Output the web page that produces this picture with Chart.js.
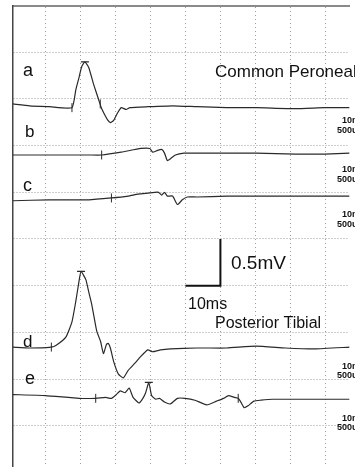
<!DOCTYPE html>
<html>
<head>
<meta charset="utf-8">
<script src="https://cdn.jsdelivr.net/npm/chart.js@4.4.1/dist/chart.umd.min.js"></script>
<style>
html,body{margin:0;padding:0;background:#fff;}
#wrap{position:relative;width:355px;height:472px;overflow:hidden;}
</style>
</head>
<body>
<div id="wrap"><canvas id="ncs"></canvas></div>
<script>
/* Nerve conduction traces, 10 ms/div, 500 uV/div */

// trace a (common peroneal)
const timeA = [0.6,5.4,11.0,17.5,18.6,19.5,20.3,21.2,22.3,23.7,25.1,25.9,26.8,27.7,28.5,29.4,30.5,31.6,33.0,34.1,39.2,46.3,53.3,61.8,70.2,81.5,89.9,97.0];
const voltA = [0.03,0.01,0,-0.01,0.18,0.31,0.43,0.48,0.42,0.24,0.08,-0.01,-0.08,-0.14,-0.17,-0.15,-0.07,-0.01,-0.03,-0.01,0,0.01,0,-0.01,-0.01,-0.02,-0.01,-0.01];
// trace b
const timeB = [0.6,11.0,22.3,26.0,31.6,37.2,39.8,40.6,42.0,43.2,44.0,44.8,45.7,47.1,49.6,53.3,61.8,70.2,81.5,89.9,97.0];
const voltB = [-0.01,-0.01,-0.01,-0.01,0.02,0.06,0.06,0.02,0.04,0.05,0.01,-0.07,-0.05,-0.01,0.01,0.01,0.01,0.01,0,0,0.01];
// trace c
const timeC = [0.6,11.0,22.3,28.8,33.6,36.4,41.2,42.3,43.2,44.0,44.8,46.3,47.7,49.1,50.5,53.3,61.8,70.2,81.5,89.9,97.0];
const voltC = [-0.03,-0.02,-0.02,0,0.02,0.04,0.06,0.06,0.03,0.06,0.02,0.02,-0.07,-0.02,0.01,0.01,0.02,0.02,0.02,0.02,0.02];
// trace d (posterior tibial)
const timeD = [0.6,5.4,11.6,13.0,15.8,17.5,18.6,19.5,20.1,21.5,22.3,23.2,24.6,25.7,26.5,27.4,27.9,28.5,29.4,30.8,32.2,33.6,35.6,37.2,39.2,40.6,42.9,45.7,53.3,61.8,70.2,78.6,87.0,97.0];
const voltD = [0,-0.01,0,0.02,0.11,0.27,0.49,0.70,0.81,0.72,0.59,0.45,0.17,0.06,-0.07,0.03,0.04,-0.01,-0.15,-0.29,-0.33,-0.25,-0.17,-0.10,-0.03,-0.05,-0.03,-0.02,-0.01,-0.01,0.01,-0.01,-0.02,0];
// trace e
const timeE = [0.6,9.9,19.5,24.3,27.1,28.8,30.2,31.3,32.7,33.9,35.0,36.7,37.8,38.6,39.5,40.3,41.5,42.6,44.0,45.7,47.7,49.9,52.7,56.1,58.9,60.9,62.3,64.0,65.1,66.0,66.8,67.9,69.6,71.6,74.9,84.3,97.0];
const voltE = [0.04,0.03,0,0,0.01,0,0.04,0.08,0.06,0.11,0.01,-0.05,0,0.06,0.17,0.03,-0.01,0,-0.04,-0.06,0,0,-0.02,-0.07,-0.03,0,0.03,0.01,0,-0.05,-0.10,-0.08,-0.03,-0.02,-0.01,-0.01,-0.01];

// baseline of each trace, mV below the top edge
const baseA = 1.084, baseB = 1.591, baseC = 2.061, baseD = 3.658, baseE = 4.207;

// cursors: onset ticks and peak bars [ms, mV]
const onsetTicks = [[17.5,-0.01,baseA],[25.6,0.03,baseA],[26.0,-0.01,baseB],[28.8,0,baseC],[11.6,0,baseD],[24.3,0,baseE],[65.1,0,baseE]];
const peakBars = [[21.2,0.48,baseA],[20.1,0.81,baseD],[39.5,0.17,baseE]];

// calibration bar 10 ms / 0.5 mV
const calTime = [50,60,60];
const calVolt = [-3.0,-3.0,-2.5];

const xGrid = [10,20,30,40,50,60,70,80,90];
const yGrid = [-0.5,-1,-1.5,-2,-2.5,-3,-3.5,-4,-4.5];

function trace(times, volts, base){
  return times.map((t,i)=>({x:t, y:volts[i]-base}));
}
function traceDs(times, volts, base){
  return {data:trace(times, volts, base), borderColor:'#2a2a2a', borderWidth:1.2, pointRadius:0, tension:0.15, fill:false};
}

const textPlugin = {
  id:'texts',
  afterDatasetsDraw(chart){
    const ctx = chart.ctx;
    ctx.save();
    ctx.fillStyle = '#111';
    ctx.textAlign = 'left';
    ctx.textBaseline = 'alphabetic';
    ctx.font = '18px "Liberation Sans", Arial, sans-serif';
    ctx.fillText('a', 23, 76);
    ctx.fillText('c', 23, 191);
    ctx.fillText('e', 25, 384);
    ctx.font = '17px "Liberation Sans", Arial, sans-serif';
    ctx.fillText('b', 25, 137);
    ctx.fillText('d', 23, 347);
    ctx.fillText('Common Peroneal', 215, 77);
    ctx.font = '16px "Liberation Sans", Arial, sans-serif';
    ctx.fillText('Posterior Tibial', 215, 328);
    ctx.font = '19px "Liberation Sans", Arial, sans-serif';
    ctx.fillText('0.5mV', 231, 269);
    ctx.font = '16px "Liberation Sans", Arial, sans-serif';
    ctx.fillText('10ms', 188, 309);
    // per-trace sweep / gain settings, cut off at the right edge
    ctx.font = 'bold 9px "Liberation Sans", Arial, sans-serif';
    ctx.textBaseline = 'middle';
    [[121,131],[170,180],[215,225],[367,376],[419,428]].forEach(([y1,y2])=>{
      ctx.fillText('10ms', 342, y1);
      ctx.fillText('500uV', 337, y2);
    });
    ctx.restore();
  }
};

const datasets = [
  traceDs(timeA, voltA, baseA),
  traceDs(timeB, voltB, baseB),
  traceDs(timeC, voltC, baseC),
  traceDs(timeD, voltD, baseD),
  traceDs(timeE, voltE, baseE),
  {data:onsetTicks.map(p=>({x:p[0], y:p[1]-p[2]})), showLine:false, pointStyle:'line', rotation:90, pointRadius:4.5, borderColor:'#2a2a2a', borderWidth:1},
  {data:peakBars.map(p=>({x:p[0], y:p[1]-p[2]})), showLine:false, pointStyle:'line', rotation:0, pointRadius:4, borderColor:'#2a2a2a', borderWidth:1.2},
  {data:calTime.map((t,i)=>({x:t, y:calVolt[i]})), borderColor:'#111', borderWidth:2, pointRadius:0, tension:0, fill:false}
];

new Chart(document.getElementById('ncs').getContext('2d'), {
  type:'line',
  data:{datasets},
  options:{
    responsive:true, maintainAspectRatio:false, animation:false,
    layout:{padding:{left:13, top:5, right:0, bottom:0}},
    plugins:{legend:{display:false}, tooltip:{enabled:false}},
    scales:{
      x:{type:'linear', position:'top', min:0.62, max:96.96,
        afterBuildTicks: s => { s.ticks = xGrid.map(v=>({value:v})); },
        ticks:{display:false}, grid:{color:'#9c9c9c', lineWidth:1, drawTicks:false},
        border:{display:true, color:'#8a8a8a', width:2, dash:[1,3]}},
      y:{type:'linear', min:-4.937, max:0,
        afterBuildTicks: s => { s.ticks = yGrid.map(v=>({value:v})); },
        ticks:{display:false}, grid:{color:'#9c9c9c', lineWidth:1, drawTicks:false},
        border:{display:true, color:'#444', width:1.5, dash:[1,2]}}
    }
  },
  plugins:[textPlugin]
});
</script>
</body>
</html>
